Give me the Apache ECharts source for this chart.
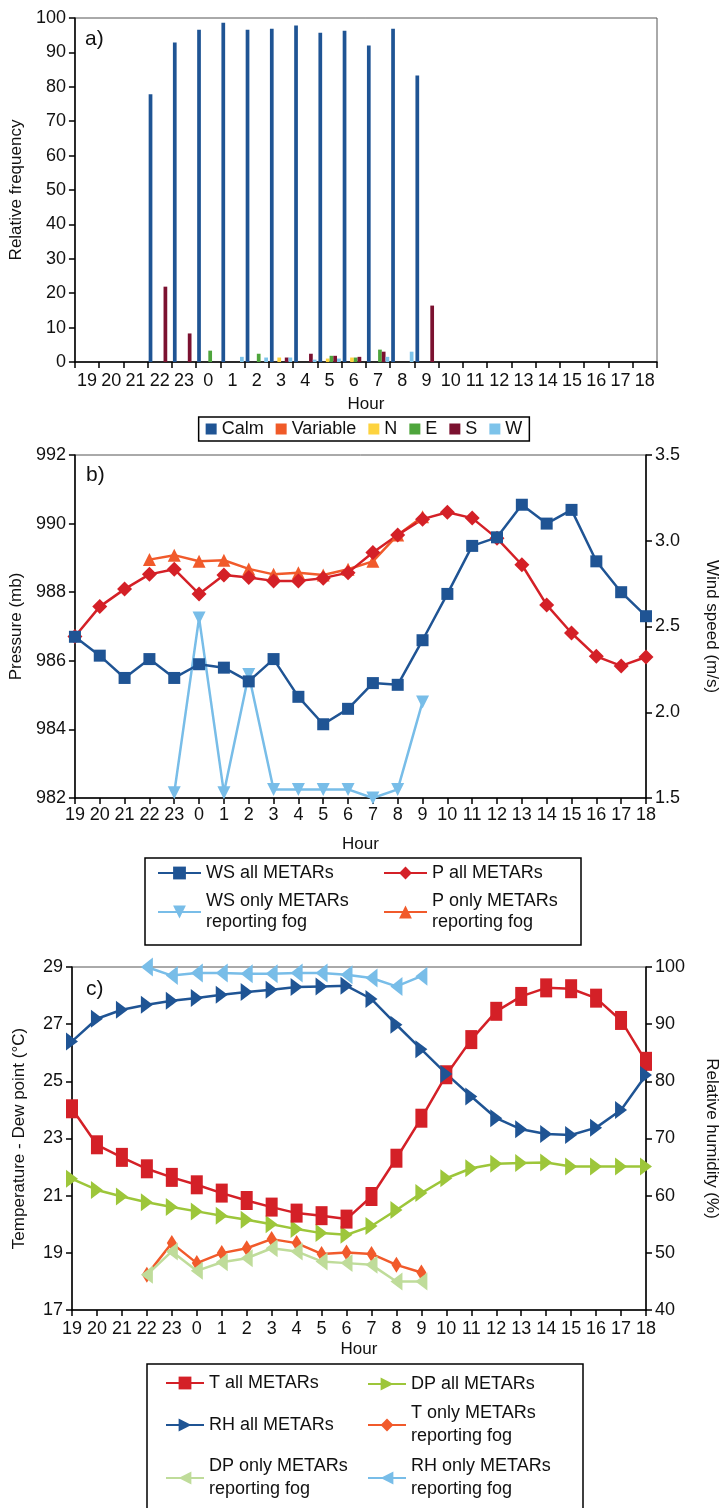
<!DOCTYPE html>
<html>
<head>
<meta charset="utf-8">
<script src="https://cdn.jsdelivr.net/npm/echarts@6/dist/echarts.min.js"></script>
<style>html,body{margin:0;padding:0;background:#fff}#c{width:728px;height:1508px}</style>
</head>
<body>
<div id="c"></div>
<script>
// ---------- data ----------
const hours = ['19','20','21','22','23','0','1','2','3','4','5','6','7','8','9','10','11','12','13','14','15','16','17','18'];

// panel a: relative frequency (%) of wind direction
const calm     = [0,0,0,77.8,92.9,96.6,98.6,96.6,96.9,97.8,95.7,96.3,92.0,96.9,83.3,0,0,0,0,0,0,0,0,0];
const variable = [0,0,0,0,0,0,0,0,0,0,0,0,0,0,0,0,0,0,0,0,0,0,0,0];
const dirN     = [0,0,0,0,0,0,0,0,1.3,0,1.0,1.3,0,0,0,0,0,0,0,0,0,0,0,0];
const dirE     = [0,0,0,0,0,3.3,0,2.4,0,0,1.8,1.3,3.6,0,0,0,0,0,0,0,0,0,0,0];
const dirS     = [0,0,0,21.9,8.3,0,0,0,1.3,2.4,1.8,1.5,3.0,0,16.4,0,0,0,0,0,0,0,0,0];
const dirW     = [0,0,0,0,0,0,1.5,1.3,1.3,0.7,1.0,0,1.5,3.0,0,0,0,0,0,0,0,0,0,0];

// panel b: pressure (mb) and wind speed (m/s)
const wsAll  = [2.44,2.33,2.20,2.31,2.20,2.28,2.26,2.18,2.31,2.09,1.93,2.02,2.17,2.16,2.42,2.69,2.97,3.02,3.21,3.10,3.18,2.88,2.70,2.56];
const pAll   = [986.71,987.58,988.09,988.52,988.67,987.95,988.50,988.43,988.33,988.33,988.41,988.57,989.16,989.67,990.13,990.33,990.16,989.57,988.80,987.63,986.81,986.13,985.85,986.11];
const wsFog  = [null,null,null,null,1.53,2.55,1.53,2.22,1.55,1.55,1.55,1.55,1.50,1.55,2.06,null,null,null,null,null,null,null,null,null];
const pFog   = [null,null,null,988.95,989.08,988.90,988.93,988.68,988.52,988.57,988.50,988.67,988.90,989.67,990.20,null,null,null,null,null,null,null,null,null];

// panel c: temperature / dew point (°C) and relative humidity (%)
const tAll   = [24.04,22.78,22.34,21.94,21.64,21.38,21.09,20.83,20.60,20.39,20.30,20.18,20.97,22.31,23.71,25.23,26.46,27.45,27.97,28.27,28.24,27.91,27.13,25.70];
const dpAll  = [21.59,21.20,20.97,20.77,20.60,20.45,20.30,20.16,20.00,19.83,19.69,19.63,19.94,20.50,21.09,21.61,21.96,22.12,22.14,22.16,22.02,22.02,22.02,22.02];
const rhAll  = [86.98,90.95,92.53,93.40,94.10,94.57,95.15,95.62,96.03,96.50,96.60,96.70,94.40,89.90,85.60,81.30,77.35,73.55,71.60,70.80,70.60,71.90,75.00,81.10];
const tFog   = [null,null,null,18.23,19.34,18.64,18.99,19.16,19.48,19.34,18.96,19.01,18.96,18.58,18.31,null,null,null,null,null,null,null,null,null];
const dpFog  = [null,null,null,18.23,19.05,18.37,18.67,18.81,19.16,19.05,18.70,18.64,18.58,18.00,18.00,null,null,null,null,null,null,null,null,null];
const rhFog  = [null,null,null,100.0,98.5,98.95,98.95,98.8,98.8,98.95,98.95,98.66,98.07,96.6,98.4,null,null,null,null,null,null,null,null,null];

// ---------- style ----------
const F = 'Liberation Sans, Arial, sans-serif';
const C = {
  calm:'#1F5494', variable:'#F05A28', n:'#FDD33F', e:'#4EA53C', s:'#7B1130', w:'#7DC3EA',
  dblue:'#1F5494', red:'#D42027', lblue:'#78BDE8', orange:'#F15A2B', green:'#9DC63A', lgreen:'#BFDC9A'
};
const lab = {color:'#111', fontSize:18, fontFamily:F};
const aLine = {show:true, lineStyle:{color:'#000', width:1.5}};
const aTick = {show:true, length:6, lineStyle:{color:'#000', width:1.5}};
const nameTS = {color:'#111', fontSize:17, fontFamily:F};

function xCat(gi, boundary, gap, margin){
  return {type:'category', gridIndex:gi, data:hours, boundaryGap:boundary,
    axisLine:aLine, axisTick:Object.assign({interval:0}, aTick),
    axisLabel:Object.assign({interval:0, margin:margin}, lab),
    name:'Hour', nameLocation:'middle', nameGap:gap, nameTextStyle:nameTS, splitLine:{show:false}};
}
function yVal(gi, pos, min, max, interval, name, gap, rot, dec){
  const o = {type:'value', gridIndex:gi, position:pos, min:min, max:max, interval:interval,
    axisLine:aLine, axisTick:aTick, axisLabel:Object.assign({margin:9}, lab), splitLine:{show:false},
    name:name, nameLocation:'middle', nameGap:gap, nameTextStyle:nameTS};
  if (rot !== undefined) o.nameRotate = rot;
  if (dec) o.axisLabel.formatter = function(v){ return v.toFixed(dec); };
  return o;
}
function bar(name, data, color){
  return {type:'bar', name:name, data:data, xAxisIndex:0, yAxisIndex:0, barGap:'0%', barCategoryGap:'8%',
    itemStyle:{color:color}, silent:true, animation:false};
}
function line(name, data, xi, yi, color, symbol, size, rot){
  return {type:'line', name:name, data:data, xAxisIndex:xi, yAxisIndex:yi, connectNulls:false,
    symbol:symbol, symbolSize:size, symbolRotate:rot||0, showAllSymbol:true,
    lineStyle:{color:color, width:2.5}, itemStyle:{color:color}, animation:false};
}
function leg(name, left, top, w, lh){
  return {data:[name], left:left, top:top, orient:'vertical', itemWidth:w, itemHeight:16, padding:0,
    textStyle:{color:'#111', fontSize:18, fontFamily:F, lineHeight:lh}, selectedMode:false, symbolRotate:'inherit'};
}

const N_WS='WS all METARs', N_P='P all METARs', N_WSF='WS only METARs\nreporting fog', N_PF='P only METARs\nreporting fog';
const N_T='T all METARs', N_DP='DP all METARs', N_RH='RH all METARs';
const N_TF='T only METARs\nreporting fog', N_DPF='DP only METARs\nreporting fog', N_RHF='RH only METARs\nreporting fog';

const option = {
  animation:false,
  textStyle:{fontFamily:F},
  grid:[
    {left:74, right:71, top:18, height:344, show:true, borderColor:'#555', borderWidth:1},
    {left:72, right:73, top:455, height:343, show:true, borderColor:'#555', borderWidth:1},
    {left:72, right:73, top:967, height:343, show:true, borderColor:'#555', borderWidth:1}
  ],
  xAxis:[ xCat(0,true,34,10), xCat(1,false,38,8), xCat(2,false,31,10) ],
  yAxis:[
    yVal(0,'left',0,100,10,'Relative frequency',45),
    yVal(1,'left',982,992,2,'Pressure (mb)',42),
    yVal(1,'right',1.5,3.5,0.5,'Wind speed (m/s)',57,-90,1),
    yVal(2,'left',17,29,2,'Temperature - Dew point (°C)',44),
    yVal(2,'right',40,100,10,'Relative humidity (%)',57,-90)
  ],
  legend:[
    {data:['Calm','Variable','N','E','S','W'], left:'center', top:417, itemWidth:11, itemHeight:11, itemGap:12,
      padding:[2,7,2,7], borderColor:'#000', borderWidth:1.5, textStyle:{color:'#111', fontSize:18, fontFamily:F, lineHeight:20},
      selectedMode:false, icon:'rect'},
    leg(N_WS, 157, 862, 43, 22),
    leg(N_WSF, 157, 891, 43, 21),
    leg(N_P, 383, 862, 43, 22),
    leg(N_PF, 383, 891, 43, 21),
    leg(N_T, 165, 1372, 38, 22),
    leg(N_RH, 165, 1414, 38, 22),
    leg(N_DPF, 165, 1455, 38, 23),
    leg(N_DP, 367, 1373, 38, 22),
    leg(N_TF, 367, 1402, 38, 23),
    leg(N_RHF, 367, 1455, 38, 23)
  ],
  graphic:[
    {type:'text', left:85, top:29, style:{text:'a)', fontSize:21, fontFamily:F, fill:'#111'}},
    {type:'text', left:86, top:465, style:{text:'b)', fontSize:21, fontFamily:F, fill:'#111'}},
    {type:'text', left:86, top:979, style:{text:'c)', fontSize:21, fontFamily:F, fill:'#111'}},
    {type:'rect', shape:{x:145, y:858, width:436, height:87}, style:{fill:'none', stroke:'#000', lineWidth:1.5}, z:-1},
    {type:'rect', shape:{x:147, y:1364, width:436, height:170}, style:{fill:'none', stroke:'#000', lineWidth:1.5}, z:-1}
  ],
  series:[
    bar('Calm', calm, C.calm),
    bar('Variable', variable, C.variable),
    bar('N', dirN, C.n),
    bar('E', dirE, C.e),
    bar('S', dirS, C.s),
    bar('W', dirW, C.w),

    line(N_PF, pFog, 1, 1, C.orange, 'triangle', 13),
    line(N_WSF, wsFog, 1, 2, C.lblue, 'triangle', 13, 180),
    line(N_P, pAll, 1, 1, C.red, 'diamond', 15),
    line(N_WS, wsAll, 1, 2, C.dblue, 'rect', 12),

    line(N_TF, tFog, 2, 3, C.orange, 'diamond', [10,16]),
    line(N_DPF, dpFog, 2, 3, C.lgreen, 'triangle', [18,12], 90),
    line(N_RHF, rhFog, 2, 4, C.lblue, 'triangle', [19,12], 90),
    line(N_DP, dpAll, 2, 3, C.green, 'triangle', [18,12], -90),
    line(N_T, tAll, 2, 3, C.red, 'rect', [12,19]),
    line(N_RH, rhAll, 2, 4, C.dblue, 'triangle', [18,12], -90)
  ]
};
const chart = echarts.init(document.getElementById('c'), null, {renderer:'canvas'});
chart.setOption(option);
</script>
</body>
</html>
